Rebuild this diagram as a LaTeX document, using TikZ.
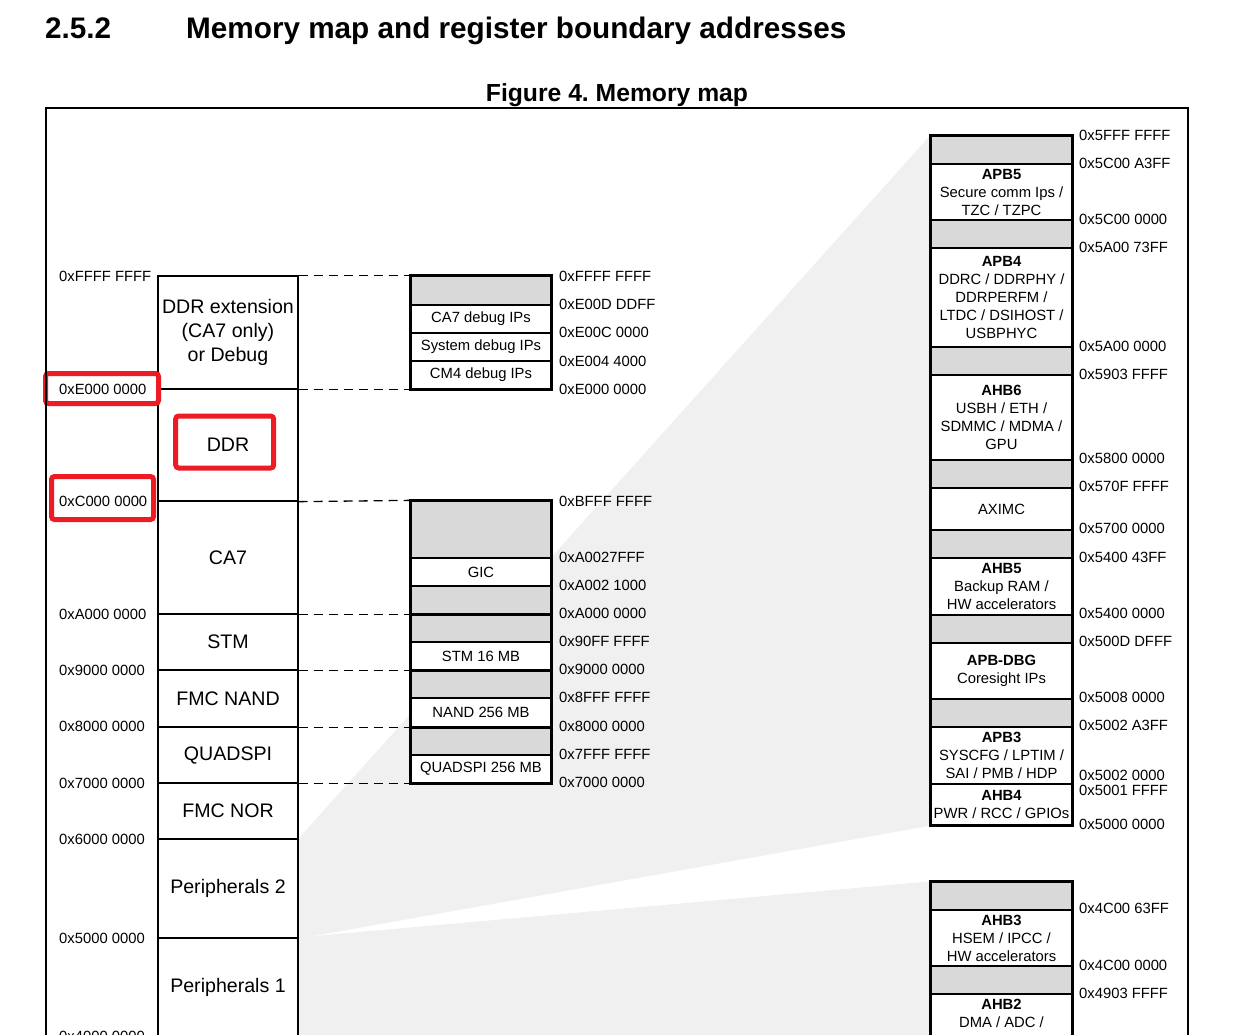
\documentclass[tikz,border=0pt]{standalone}
\usepackage{fontspec}
\setmainfont{Liberation Sans}
\usetikzlibrary{backgrounds}

\definecolor{cellgrey}{RGB}{217,217,217}
\definecolor{projgrey}{RGB}{240,240,240}
\definecolor{hlred}{RGB}{237,28,36}
\newcommand\addrfont{\fontsize{14.8}{18}\selectfont}
\newcommand\colfont{\fontsize{19.6}{24}\selectfont}

\begin{document}
\begin{tikzpicture}[x=1pt, y=-1pt,
  lcell/.style={draw, line width=1.3, minimum width=140, inner sep=0, align=center, font=\colfont},
  mcell/.style={draw, fill=white, line width=1.3, minimum width=140, inner sep=0, align=center, font=\addrfont},
  gcell/.style={mcell, fill=cellgrey, minimum height=28},
  rcell/.style={mcell, minimum width=141},
  rgcell/.style={rcell, fill=cellgrey, minimum height=28},
  addr/.style={anchor=west, inner sep=0, font=\addrfont},
  hilite/.style={draw=hlred, line width=5, rounded corners=3, inner sep=0},
  link/.style={line width=1.3, dash pattern=on 9 off 6},
  blockedge/.style={line width=2.6}]
\useasboundingbox (0,0) rectangle (1256,1034);

% headings
\node[anchor=base west, inner sep=0, font=\fontsize{29.7}{34}\selectfont\bfseries] at (45,38) (secnum) {2.5.2};
\node[anchor=base west, inner sep=0, font=\fontsize{29.7}{34}\selectfont\bfseries] at (186,38) (sectitle) {Memory map and register boundary addresses};
\node[anchor=base, inner sep=0, font=\fontsize{24.7}{28}\selectfont\bfseries] at (617,101) (figtitle) {Figure 4.\ Memory map};

% left column
\node[lcell, minimum height=113] at (228,332.5) (ddrext) {DDR extension\\(CA7 only)\\or Debug};
\node[lcell, minimum height=112] at (228,445) (ddr) {DDR};
\node[lcell, minimum height=113] at (228,557.5) (ca7) {CA7};
\node[lcell, minimum height=56] at (228,642) (stm) {STM};
\node[lcell, minimum height=57] at (228,698.5) (fmcnand) {FMC NAND};
\node[lcell, minimum height=56] at (228,755) (quadspi) {QUADSPI};
\node[lcell, minimum height=56] at (228,811) (fmcnor) {FMC NOR};
\node[lcell, minimum height=99] at (228,888.5) (periph2) {Peripherals 2};
\node[lcell, minimum height=98] at (228,987) (periph1) {Peripherals 1};

% right column, upper part
\node[rgcell] at (1001.5,150) (rg1) {};
\node[rcell, minimum height=56] at (1001.5,192) (apb5) {\textbf{APB5}\\Secure comm Ips /\\TZC / TZPC};
\node[rgcell] at (1001.5,234) (rg2) {};
\node[rcell, minimum height=99] at (1001.5,297.5) (apb4) {\textbf{APB4}\\DDRC / DDRPHY /\\DDRPERFM /\\LTDC / DSIHOST /\\USBPHYC};
\node[rgcell] at (1001.5,361) (rg3) {};
\node[rcell, minimum height=85] at (1001.5,417.5) (ahb6) {\textbf{AHB6}\\USBH / ETH /\\SDMMC / MDMA /\\GPU};
\node[rgcell] at (1001.5,474) (rg4) {};
\node[rcell, minimum height=42] at (1001.5,509) (aximc) {AXIMC};
\node[rgcell] at (1001.5,544) (rg5) {};
\node[rcell, minimum height=57] at (1001.5,586.5) (ahb5) {\textbf{AHB5}\\Backup RAM /\\HW accelerators};
\node[rgcell] at (1001.5,629) (rg6) {};
\node[rcell, minimum height=56] at (1001.5,671) (apbdbg) {\textbf{APB-DBG}\\Coresight IPs};
\node[rgcell] at (1001.5,713) (rg7) {};
\node[rcell, minimum height=57] at (1001.5,755.5) (apb3) {\textbf{APB3}\\SYSCFG / LPTIM /\\SAI / PMB / HDP};
\node[rcell, minimum height=41] at (1001.5,804.5) (ahb4) {\textbf{AHB4}\\PWR / RCC / GPIOs};
\draw[blockedge] (rg1.north west) rectangle (ahb4.south east);

% right column, lower part
\node[rgcell] at (1001.5,896) (lg1) {};
\node[rcell, minimum height=56] at (1001.5,938) (ahb3) {\textbf{AHB3}\\HSEM / IPCC /\\HW accelerators};
\node[rgcell] at (1001.5,980) (lg2) {};
\node[rcell, minimum height=106] at (1001.5,1047) (ahb2) {};
\node[anchor=north, inner sep=0, align=center, font=\addrfont] at (1001.5,998.5) (ahb2txt) {\textbf{AHB2}\\DMA / ADC /};
\draw[blockedge] (lg1.north west) rectangle (ahb2.south east);

% middle block, debug
\node[gcell, minimum height=29] at (481,290.5) (dgrey) {};
\node[mcell, minimum height=28] at (481,319) (ca7dbg) {CA7 debug IPs};
\node[mcell, minimum height=28] at (481,347) (sysdbg) {System debug IPs};
\node[mcell, minimum height=28] at (481,375) (cm4dbg) {CM4 debug IPs};
\draw[blockedge] (dgrey.north west) rectangle (cm4dbg.south east);

% middle block, CA7 to QUADSPI
\node[gcell, minimum height=57] at (481,529.5) (cgrey1) {};
\node[mcell, minimum height=28] at (481,572) (gic) {GIC};
\node[gcell] at (481,600) (cgrey2) {};
\node[gcell] at (481,628) (cgrey3) {};
\node[mcell, minimum height=28] at (481,656) (stm16) {STM 16 MB};
\node[gcell] at (481,684) (cgrey4) {};
\node[mcell, minimum height=29] at (481,712.5) (nand) {NAND 256 MB};
\node[gcell] at (481,741) (cgrey5) {};
\node[mcell, minimum height=28] at (481,769) (qspi) {QUADSPI 256 MB};
\draw[blockedge] (cgrey1.north west) rectangle (qspi.south east);
\draw[blockedge] (cgrey2.south west) -- (cgrey2.south east);
\draw[blockedge] (stm16.south west) -- (stm16.south east);
\draw[blockedge] (nand.south west) -- (nand.south east);

% zoom projections
\begin{scope}[on background layer]
\fill[white] (0,0) rectangle (1256,1034);
\fill[projgrey] (periph2.north east) -- (rg1.north west) -- (ahb4.south west) -- (periph2.south east) -- cycle;
\fill[projgrey] (periph1.north east) -- (lg1.north west) -- (ahb2.south west) -- (periph1.south east) -- cycle;
\end{scope}

% dashed links
\draw[link] (ddrext.north east) -- (dgrey.north west);
\draw[link] (ddrext.south east) -- (cm4dbg.south west);
\draw[link] (ddr.south east) -- (cgrey1.north west);
\draw[link] (ca7.south east) -- (cgrey2.south west);
\draw[link] (stm.south east) -- (stm16.south west);
\draw[link] (fmcnand.south east) -- (nand.south west);
\draw[link] (quadspi.south east) -- (qspi.south west);

% left addresses
\node[addr] at (59,276) (lFFFF) {0xFFFF FFFF};
\node[addr] at (59,389) (lE000) {0xE000 0000};
\node[addr] at (59,501) (lC000) {0xC000 0000};
\node[addr] at (59,614) (lA000) {0xA000 0000};
\node[addr] at (59,670) (l9000) {0x9000 0000};
\node[addr] at (59,726) (l8000) {0x8000 0000};
\node[addr] at (59,783) (l7000) {0x7000 0000};
\node[addr] at (59,839) (l6000) {0x6000 0000};
\node[addr] at (59,938) (l5000) {0x5000 0000};
\node[addr] at (59,1036) (l4000) {0x4000 0000};

% middle addresses
\node[addr] at (559,276) (mFFFF) {0xFFFF FFFF};
\node[addr] at (559,304) (mE00D) {0xE00D DDFF};
\node[addr] at (559,332) (mE00C) {0xE00C 0000};
\node[addr] at (559,361) (mE004) {0xE004 4000};
\node[addr] at (559,389) (mE000) {0xE000 0000};
\node[addr] at (559,501) (mBFFF) {0xBFFF FFFF};
\node[addr] at (559,557) (mA0027) {0xA0027FFF};
\node[addr] at (559,585) (mA002) {0xA002 1000};
\node[addr] at (559,613) (mA000) {0xA000 0000};
\node[addr] at (559,641) (m90FF) {0x90FF FFFF};
\node[addr] at (559,669) (m9000) {0x9000 0000};
\node[addr] at (559,697) (m8FFF) {0x8FFF FFFF};
\node[addr] at (559,726) (m8000) {0x8000 0000};
\node[addr] at (559,754) (m7FFF) {0x7FFF FFFF};
\node[addr] at (559,782) (m7000) {0x7000 0000};

% right addresses
\node[addr] at (1079,135) (r5FFF) {0x5FFF FFFF};
\node[addr] at (1079,163) (r5C00a) {0x5C00 A3FF};
\node[addr] at (1079,219) (r5C00) {0x5C00 0000};
\node[addr] at (1079,247) (r5A00a) {0x5A00 73FF};
\node[addr] at (1079,346) (r5A00) {0x5A00 0000};
\node[addr] at (1079,374) (r5903) {0x5903 FFFF};
\node[addr] at (1079,458) (r5800) {0x5800 0000};
\node[addr] at (1079,486) (r570F) {0x570F FFFF};
\node[addr] at (1079,528) (r5700) {0x5700 0000};
\node[addr] at (1079,557) (r5400a) {0x5400 43FF};
\node[addr] at (1079,613) (r5400) {0x5400 0000};
\node[addr] at (1079,641) (r500D) {0x500D DFFF};
\node[addr] at (1079,697) (r5008) {0x5008 0000};
\node[addr] at (1079,725) (r5002a) {0x5002 A3FF};
\node[addr] at (1079,775) (r5002) {0x5002 0000};
\node[addr] at (1079,790) (r5001) {0x5001 FFFF};
\node[addr] at (1079,824) (r5000) {0x5000 0000};
\node[addr] at (1079,908) (r4C00a) {0x4C00 63FF};
\node[addr] at (1079,965) (r4C00) {0x4C00 0000};
\node[addr] at (1079,993) (r4903) {0x4903 FFFF};

% highlights
\node[hilite, minimum width=113, minimum height=30] at (102,388.5) (hlE000) {};
\node[hilite, minimum width=102, minimum height=43] at (102.5,498) (hlC000) {};
\node[hilite, minimum width=98, minimum height=52] at (224.7,442) (hlddr) {};

% outer frame
\draw[line width=2] (46,108) rectangle (1188,1100);
\end{tikzpicture}
\end{document}
